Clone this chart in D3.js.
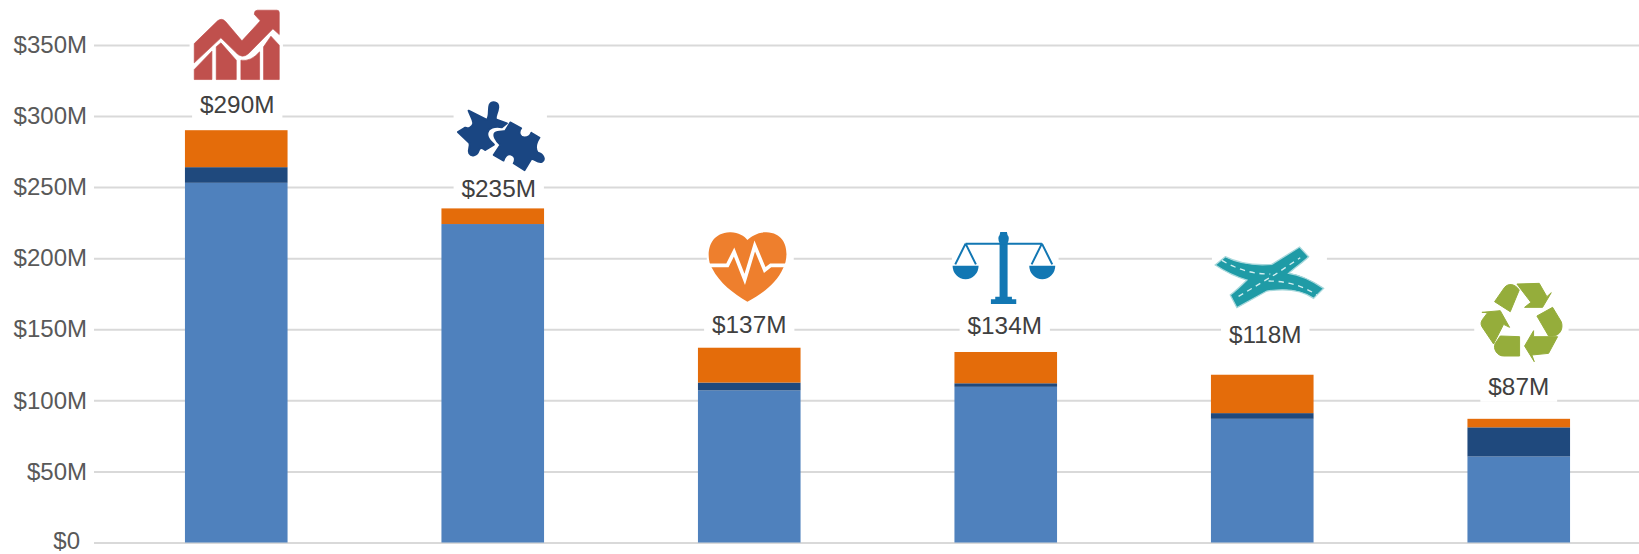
<!DOCTYPE html>
<html lang="en">
<head>
    <meta charset="UTF-8">
    <title>Stacked bars with icons</title>
    <script src="https://d3js.org/d3.v7.min.js"></script>
    <style>
        body { margin: 0; background: #fff; }
        svg { display: block; }
        text { font-family: "Liberation Sans", Arial, sans-serif; font-size: 24px; }
        .tick line { stroke: #d9d9d9; stroke-width: 2; }
        .tick text { fill: #595959; }
        .total { fill: #404040; text-anchor: middle; dominant-baseline: central; font-size: 24.3px; }
    </style>
</head>
<body>
    <svg width="1639" height="554"></svg>
    <script>
        const width = 1639;
        const height = 554;

        const categories = ["growth", "partners", "health", "justice", "roads", "recycling"];
        const lower = [253, 224, 107, 109.5, 87, 60.5];
        const middle = [11, 0, 5.5, 2.5, 4, 20.5];
        const upper = [26, 11, 24.5, 22, 27, 6];
        const totals = [290, 235, 137, 134, 118, 87];
        const tickValues = [0, 50, 100, 150, 200, 250, 300, 350];
        const seriesNames = ["lower", "middle", "upper"];
        const seriesColors = ["#4f81bd", "#1f497d", "#e46c0a"];

        const rows = categories.map((c, i) => ({
            category: c, lower: lower[i], middle: middle[i], upper: upper[i], total: totals[i]
        }));

        // label/icon placement relative to the top of each bar
        // paths are traced at 3x, hence the scale(1/3) further down
        const icons = {
            growth: {
                dx: -56, dy: -130, labelDx: 1, labelDy: -26,
                mask: [28, 15, 280, 230],
                draw: g => {
                    g.append("path").attr("fill", "#c0504d").attr("stroke", "#c0504d").attr("stroke-width", 2).attr("d",
                        "M42,130 L112,62 Q124,52 136,64 L185,122 L240,62 L222,42 Q222,30 232,30 L290,30 Q297,30 297,37 L297,103 L278,86 " +
                        "L205,160 Q185,178 165,155 L122,113 L42,188 Z " +
                        "M42,208 L95,153 L95,238 L42,238 Z " +
                        "M108,140 L122,128 L168,180 L168,238 L108,238 Z " +
                        "M182,180 Q212,185 238,155 L238,238 L182,238 Z " +
                        "M250,140 L272,108 L297,135 L297,238 L250,238 Z");
                }
            },
            partners: {
                dx: -47.5, dy: -118.4, labelDx: 6, labelDy: -20,
                mask: [25, 20, 280, 225],
                draw: g => {
                    g.append("path").attr("fill", "#1a4682").attr("stroke", "#1a4682").attr("stroke-width", 6).attr("stroke-linejoin", "round").attr("d",
                        "M70,62 L125,90 C135,75 128,60 133,45 C140,32 160,36 159,52 C157,70 148,80 152,88 L185,100 L170,112 " +
                        "C150,108 128,112 126,132 C126,148 138,156 146,164 L120,180 C110,172 104,172 100,182 C95,198 78,200 72,190 " +
                        "C66,180 78,170 72,158 L38,126 L60,113 C68,118 82,112 84,100 C84,90 76,78 70,62 Z");
                    g.append("path").attr("fill", "#1a4682").attr("stroke", "#1a4682").attr("stroke-width", 5).attr("stroke-linejoin", "round").attr("d",
                        "M195,97 L228,115 C218,128 225,142 238,142 C250,142 256,134 258,128 L283,143 C272,160 268,175 278,188 " +
                        "C295,192 302,210 290,216 C275,220 265,203 258,208 L238,241 L205,220 C212,208 208,195 195,193 " +
                        "C183,192 178,202 175,212 L145,195 L165,165 C150,150 142,135 150,128 C158,122 175,125 180,122 Z");
                }
            },
            health: {
                dx: -54.5, dy: -127.7, labelDx: 0, labelDy: -23,
                mask: [36, 30, 261, 220],
                draw: g => {
                    g.append("path").attr("fill", "#ee7f2d").attr("d",
                        "M158,245 C115,220 75,190 52,145 C33,115 35,40 105,37 C130,36 148,48 158,60 C170,48 190,36 215,37 " +
                        "C285,40 282,115 265,145 C245,190 205,220 158,245 Z");
                    g.append("path").attr("fill", "none").attr("stroke", "#fff").attr("stroke-width", 11)
                        .attr("d", "M30,136 L98,136 L118,96 L150,178 L180,78 L210,150 L228,136 L285,136");
                }
            },
            justice: {
                dx: -60.5, dy: -132, labelDx: -1, labelDy: -26.5,
                mask: [20, 30, 320, 225],
                draw: g => {
                    const blue = "#1277b3";
                    g.append("path").attr("fill", blue).attr("d",
                        "M163,230 L163,70 Q158,60 160,50 Q164,46 165,36 L185,36 Q186,46 190,50 Q192,60 187,70 L187,230 L200,230 L200,238 L213,238 L213,252 L137,252 L137,238 L150,238 L150,230 Z " +
                        "M22,137 A39,41 0 0 0 100,137 Z M252,137 A39,41 0 0 0 330,137 Z");
                    g.append("path").attr("fill", "none").attr("stroke", blue).attr("stroke-width", 6)
                        .attr("d", "M61,71 L290,71 M61,71 L30,133 M61,71 L92,133 M290,71 L259,133 M290,71 L321,133");
                }
            },
            roads: {
                dx: -57, dy: -139.7, labelDx: 3, labelDy: -40,
                mask: [20, 30, 345, 195],
                draw: g => {
                    g.append("path").attr("fill", "#1f9ba6").attr("stroke", "#a8d8dc").attr("stroke-width", 4).attr("d",
                        "M60,65 C100,85 150,92 200,88 L283,36 L310,65 C290,85 265,100 250,115 C290,120 325,140 355,160 L325,190 " +
                        "C290,165 240,160 185,168 L95,218 L75,180 C95,165 110,150 125,135 C90,125 60,110 30,90 Z");
                    g.append("path").attr("fill", "none").attr("stroke", "#d3eef0").attr("stroke-width", 4).attr("stroke-dasharray", "16 14")
                        .attr("d", "M50,76 C90,100 140,118 195,117 M100,184 L210,118 L285,68 M190,138 C240,138 290,150 335,180");
                }
            },
            recycling: {
                dx: -53.5, dy: -148.8, labelDx: 0, labelDy: -32,
                mask: [27, 30, 283, 250],
                draw: g => {
                    g.append("path").attr("fill", "#95ad3b").attr("stroke", "#95ad3b").attr("stroke-width", 3).attr("d",
                        "M88,95 L118,52 C130,38 150,42 162,60 L135,125 Z " +
                        "M155,42 L222,40 L245,80 L258,68 L232,112 L178,112 L197,97 Z " +
                        "M215,138 L262,112 L288,155 C295,175 285,197 262,198 L250,198 Z " +
                        "M277,200 L250,250 L200,255 L207,275 L178,228 L205,182 L205,200 Z " +
                        "M163,200 L163,258 L115,258 C95,258 82,235 90,220 L105,198 Z " +
                        "M50,127 L105,122 L133,172 L115,163 L85,222 L50,170 C45,160 48,155 52,148 L67,128 Z");
                }
            }
        };

        const svg = d3.select("svg");

        const x = d3.scaleBand()
            .domain(categories)
            .range([108, 1647])
            .paddingInner(0.6)
            .paddingOuter(0.3);

        const y = d3.scaleLinear()
            .domain([0, 350])
            .range([542.5, 44.9]);

        const yAxis = d3.axisLeft(y)
            .tickValues(tickValues)
            .tickSize(-(width - 94))
            .tickPadding(7)
            .tickFormat(d => d === 0 ? "$0" : `$${d}M`);

        const axisG = svg.append("g")
            .attr("transform", "translate(94,0)")
            .call(yAxis);
        axisG.select(".domain").remove();
        axisG.selectAll(".tick text")
            .attr("dx", d => d === 0 ? -7 : 0)
            .attr("y", d => d === 0 ? -1.5 : 0);

        const stack = d3.stack().keys(seriesNames);

        svg.append("g")
            .selectAll("g")
            .data(stack(rows))
            .enter().append("g")
            .attr("fill", (d, i) => seriesColors[i])
            .selectAll("rect")
            .data(d => d)
            .enter().append("rect")
            .attr("x", d => x(d.data.category))
            .attr("width", x.bandwidth())
            .attr("y", d => y(d[1]))
            .attr("height", d => y(d[0]) - y(d[1]));

        const center = c => x(c) + x.bandwidth() / 2;

        const marks = svg.append("g")
            .selectAll("g")
            .data(rows)
            .enter().append("g");

        marks.each(function (d) {
            const icon = icons[d.category];
            const group = d3.select(this);
            const ox = center(d.category) + icon.dx;
            const oy = y(d.total) + icon.dy;

            const g = group.append("g")
                .attr("transform", `translate(${ox},${oy}) scale(${1 / 3})`);
            g.append("rect")
                .attr("x", icon.mask[0]).attr("y", icon.mask[1])
                .attr("width", icon.mask[2]).attr("height", icon.mask[3])
                .attr("fill", "#fff");
            icon.draw(g);

            const lx = center(d.category) + icon.labelDx;
            const ly = y(d.total) + icon.labelDy;
            const label = group.append("text")
                .attr("class", "total")
                .attr("x", lx)
                .attr("y", ly)
                .text(`$${d.total}M`);
            const w = label.node().getComputedTextLength() + 16;
            group.insert("rect", "text")
                .attr("x", lx - w / 2)
                .attr("y", ly - 15)
                .attr("width", w)
                .attr("height", 30)
                .attr("fill", "#fff");
        });
    </script>
</body>
</html>
